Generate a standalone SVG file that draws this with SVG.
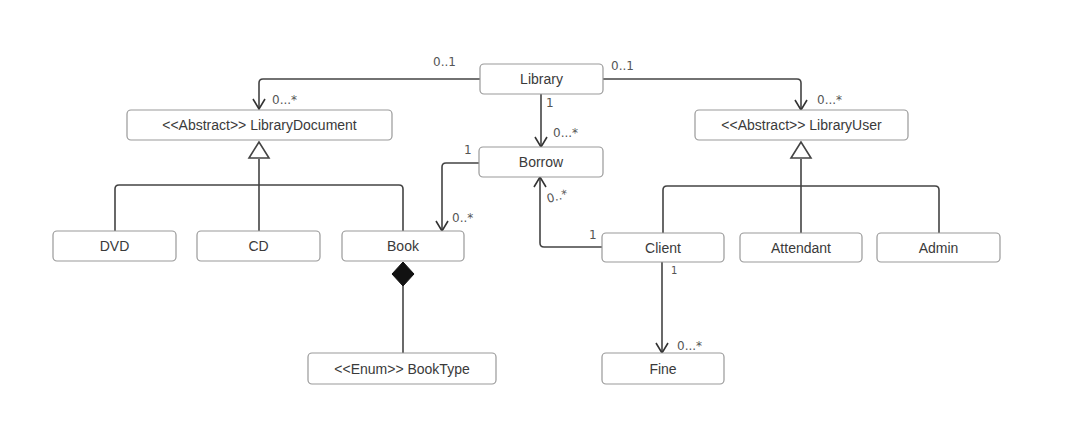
<svg xmlns="http://www.w3.org/2000/svg" width="1079" height="435" viewBox="0 0 1079 435">
<defs>
<style>
.box{fill:#fff;stroke:#999;stroke-width:1.2}
.lbl{font-family:"Liberation Sans",Arial,sans-serif;font-size:14px;fill:#3a3a3a;text-anchor:middle}
.ln{fill:none;stroke:#444;stroke-width:1.6}
.hw{font-family:"DejaVu Sans",sans-serif;font-size:12px;fill:#555}
</style>
<marker id="open" viewBox="0 0 14 14" refX="13" refY="7" markerWidth="14" markerHeight="14" markerUnits="userSpaceOnUse" orient="auto">
<path d="M3,1 L13,7 L3,13" fill="none" stroke="#333" stroke-width="1.6"/>
</marker>
</defs>
<rect width="1079" height="435" fill="#fff"/>
<g id="connectors">
<path class="ln" d="M480,79 H263 Q259,79 259,83 V109" marker-end="url(#open)"/>
<path class="ln" d="M603,79 H797 Q801,79 801,83 V110" marker-end="url(#open)"/>
<path class="ln" d="M541,94 V147" marker-end="url(#open)"/>
<path class="ln" d="M479,163 H446 Q442,163 442,167 V231" marker-end="url(#open)"/>
<path class="ln" d="M602,247 H544 Q540,247 540,243 V177" marker-end="url(#open)"/>
<path class="ln" d="M662,262 V353" marker-end="url(#open)"/>
<path class="ln" d="M259,159 V185 M115,231 V189 Q115,185 119,185 H399 Q403,185 403,189 V231 M259,185 V231"/>
<polygon points="259,142 249,158 269,158" fill="#fff" stroke="#444" stroke-width="1.6"/>
<path class="ln" d="M801,159 V186 M663,233 V190 Q663,186 667,186 H935 Q939,186 939,190 V233 M801,186 V233"/>
<polygon points="801,142 791,158 811,158" fill="#fff" stroke="#444" stroke-width="1.6"/>
<path class="ln" d="M403,286 V353"/>
<polygon points="403,262 392,274 403,286 414,274" fill="#111" stroke="#111"/>
<g class="hw">
<text x="433" y="66">0..1</text>
<text x="611" y="70">0..1</text>
<text x="272" y="104">0...*</text>
<text x="817" y="104">0...*</text>
<text x="546" y="107">1</text>
<text x="553" y="137">0...*</text>
<text x="464" y="154">1</text>
<text x="452" y="222">0..*</text>
<text x="548" y="203" transform="rotate(-15 548 203)">0..*</text>
<text x="589" y="239">1</text>
<text x="671" y="274" font-size="10">1</text>
<text x="677" y="350">0...*</text>
</g>
</g>
<g id="Library"><rect class="box" x="480" y="64" width="123" height="30" rx="4"/><text class="lbl" x="541.5" y="84">Library</text></g>
<g id="LibraryDocument"><rect class="box" x="127" y="110" width="265" height="30" rx="4"/><text class="lbl" x="259.5" y="130">&lt;&lt;Abstract&gt;&gt; LibraryDocument</text></g>
<g id="LibraryUser"><rect class="box" x="695" y="110" width="213" height="30" rx="4"/><text class="lbl" x="801.5" y="130">&lt;&lt;Abstract&gt;&gt; LibraryUser</text></g>
<g id="Borrow"><rect class="box" x="479" y="147" width="124" height="30" rx="4"/><text class="lbl" x="541" y="167">Borrow</text></g>
<g id="DVD"><rect class="box" x="53" y="231" width="123" height="30" rx="4"/><text class="lbl" x="114.5" y="251">DVD</text></g>
<g id="CD"><rect class="box" x="197" y="231" width="123" height="30" rx="4"/><text class="lbl" x="258.5" y="251">CD</text></g>
<g id="Book"><rect class="box" x="342" y="231" width="122" height="30" rx="4"/><text class="lbl" x="403" y="251">Book</text></g>
<g id="Client"><rect class="box" x="602" y="233" width="122" height="29" rx="4"/><text class="lbl" x="663" y="253">Client</text></g>
<g id="Attendant"><rect class="box" x="740" y="233" width="122" height="29" rx="4"/><text class="lbl" x="801" y="253">Attendant</text></g>
<g id="Admin"><rect class="box" x="877" y="233" width="123" height="29" rx="4"/><text class="lbl" x="938.5" y="253">Admin</text></g>
<g id="BookType"><rect class="box" x="308" y="353" width="188" height="31" rx="4"/><text class="lbl" x="402" y="374">&lt;&lt;Enum&gt;&gt; BookType</text></g>
<g id="Fine"><rect class="box" x="602" y="353" width="122" height="31" rx="4"/><text class="lbl" x="663" y="374">Fine</text></g>
</svg>
